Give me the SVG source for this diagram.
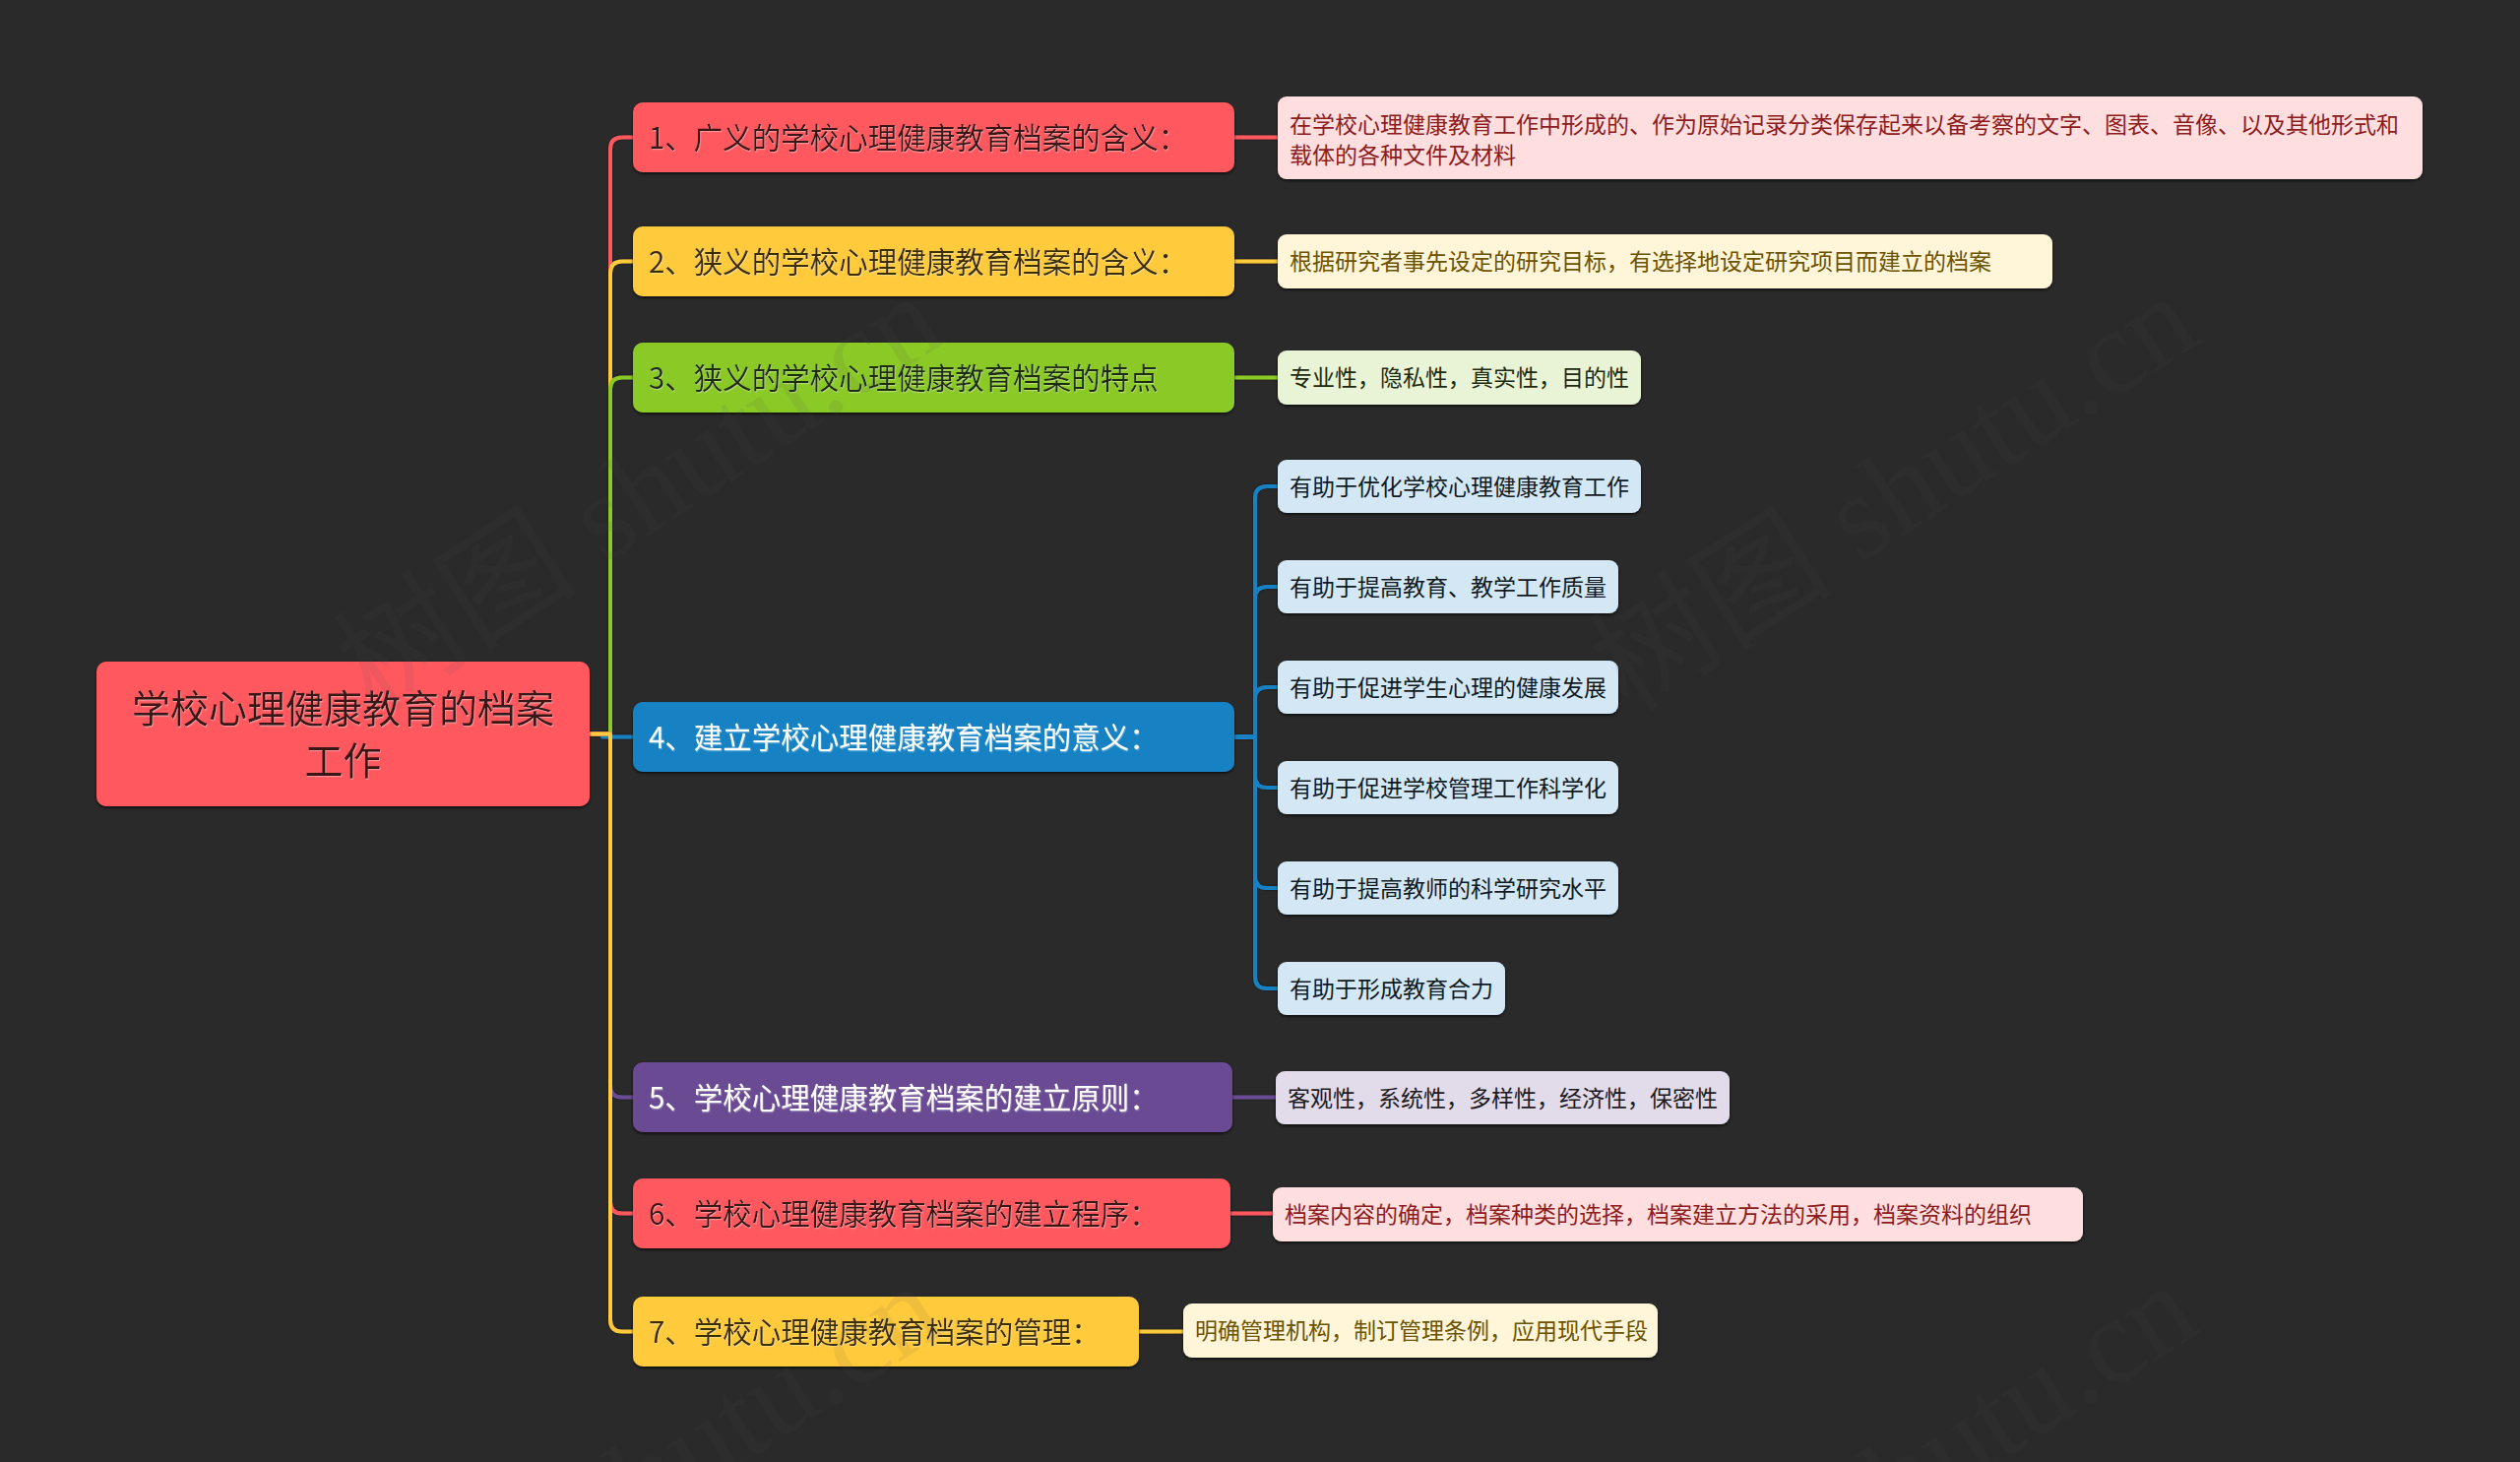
<svg xmlns="http://www.w3.org/2000/svg" width="2560" height="1485" viewBox="0 0 2560 1485">
<defs>
<filter id="boxsh" x="-5%" y="-20%" width="110%" height="140%">
<feDropShadow dx="0" dy="1.5" stdDeviation="1.5" flood-color="#000" flood-opacity="0.75"/>
</filter>
<filter id="txtsh" x="-5%" y="-20%" width="110%" height="140%">
<feDropShadow dx="0.6" dy="1.2" stdDeviation="0.4" flood-color="#fff" flood-opacity="0.35"/>
</filter>
<filter id="linesh" x="-5%" y="-5%" width="110%" height="110%">
<feDropShadow dx="0" dy="0" stdDeviation="1" flood-color="#000" flood-opacity="0.6"/>
</filter>
</defs>
<style>
text{font-family:"Noto Sans CJK SC","Noto Sans",sans-serif;}
.main{font-size:29.5px;filter:url(#txtsh);}
.root{font-size:39px;fill:#3b1212;filter:url(#txtsh);}
.leaf{font-size:23px;}
.box{filter:url(#boxsh);}
.c{fill:none;stroke-width:4;stroke-linecap:round;stroke-linejoin:round;}
.red{fill:#FF595E;} .yel{fill:#FFCA3A;} .grn{fill:#8AC926;} .blu{fill:#1982C4;} .pur{fill:#6A4C93;}
.lred{fill:#FFDEDF;} .lyel{fill:#FFF5D8;} .lgrn{fill:#E9F4D6;} .lblu{fill:#D3E7F4;} .lpur{fill:#E1DBEA;}
.tred{fill:#3b1212;} .tyel{fill:#3d2e05;} .tgrn{fill:#1f2e0a;} .twht{fill:#ffffff;}
.ltred{fill:#8c1c20;} .ltyel{fill:#6b5300;} .ltgrn{fill:#1e2a10;} .ltblu{fill:#111a22;} .ltpur{fill:#1d1a22;}
.wm{font-family:"Liberation Serif","Noto Sans CJK SC",serif;font-size:124px;fill:#4e4e4e;opacity:0.09;}
</style>
<rect x="0" y="0" width="2560" height="1485" fill="#2a2a2a"/>

<g id="connectors" filter="url(#linesh)">
<path class="c" stroke="#FF595E" d="M599,745.5 H620 V151.5 Q620,139.5 632,139.5 H643"/>
<path class="c" stroke="#FFCA3A" d="M599,745.5 H620 V277.5 Q620,265.5 632,265.5 H643"/>
<path class="c" stroke="#8AC926" d="M599,745.5 H620 V395.5 Q620,383.5 632,383.5 H643"/>
<path class="c" stroke="#1982C4" d="M612,748.5 H643"/>
<path class="c" stroke="#6A4C93" d="M599,745.5 H620 V1102.5 Q620,1114.5 632,1114.5 H643"/>
<path class="c" stroke="#FF595E" d="M599,745.5 H620 V1220.5 Q620,1232.5 632,1232.5 H643"/>
<path class="c" stroke="#FFCA3A" d="M599,745.5 H620 V1340.5 Q620,1352.5 632,1352.5 H643"/>
<path class="c" stroke="#FF595E" d="M1254,139.5 H1298"/>
<path class="c" stroke="#FFCA3A" d="M1254,265.5 H1298"/>
<path class="c" stroke="#8AC926" d="M1254,383.5 H1298"/>
<path class="c" stroke="#1982C4" d="M1254,748.5 H1275 V506 Q1275,494 1287,494 H1298"/>
<path class="c" stroke="#1982C4" d="M1254,748.5 H1275 V608 Q1275,596 1287,596 H1298"/>
<path class="c" stroke="#1982C4" d="M1254,748.5 H1275 V710 Q1275,698 1287,698 H1298"/>
<path class="c" stroke="#1982C4" d="M1254,748.5 H1275 V788 Q1275,800 1287,800 H1298"/>
<path class="c" stroke="#1982C4" d="M1254,748.5 H1275 V890 Q1275,902 1287,902 H1298"/>
<path class="c" stroke="#1982C4" d="M1254,748.5 H1275 V992 Q1275,1004 1287,1004 H1298"/>
<path class="c" stroke="#6A4C93" d="M1252,1114.5 H1296"/>
<path class="c" stroke="#FF595E" d="M1250,1232.5 H1293"/>
<path class="c" stroke="#FFCA3A" d="M1157,1352.5 H1202"/>
</g>

<g id="root">
<rect class="box red" x="98" y="672" width="501" height="147" rx="10"/>
<text class="root" x="348.5" y="734" text-anchor="middle">学校心理健康教育的档案</text>
<text class="root" x="348.5" y="787" text-anchor="middle">工作</text>
</g>

<g id="n1">
<rect class="box red" x="643" y="104" width="611" height="71" rx="10"/>
<text class="main tred" x="659" y="150.5">1、广义的学校心理健康教育档案的含义：</text>
</g>
<g id="n2">
<rect class="box yel" x="643" y="230" width="611" height="71" rx="10"/>
<text class="main tyel" x="659" y="276.5">2、狭义的学校心理健康教育档案的含义：</text>
</g>
<g id="n3">
<rect class="box grn" x="643" y="348" width="611" height="71" rx="10"/>
<text class="main tgrn" x="659" y="394.5">3、狭义的学校心理健康教育档案的特点</text>
</g>
<g id="n4">
<rect class="box blu" x="643" y="713" width="611" height="71" rx="10"/>
<text class="main twht" x="659" y="759.5">4、建立学校心理健康教育档案的意义：</text>
</g>
<g id="n5">
<rect class="box pur" x="643" y="1079" width="609" height="71" rx="10"/>
<text class="main twht" x="659" y="1125.5">5、学校心理健康教育档案的建立原则：</text>
</g>
<g id="n6">
<rect class="box red" x="643" y="1197" width="607" height="71" rx="10"/>
<text class="main tred" x="659" y="1243.5">6、学校心理健康教育档案的建立程序：</text>
</g>
<g id="n7">
<rect class="box yel" x="643" y="1317" width="514" height="71" rx="10"/>
<text class="main tyel" x="659" y="1363.5">7、学校心理健康教育档案的管理：</text>
</g>

<g id="l1">
<rect class="box lred" x="1298" y="98" width="1163" height="84" rx="9"/>
<text class="leaf ltred" x="1310" y="135">在学校心理健康教育工作中形成的、作为原始记录分类保存起来以备考察的文字、图表、音像、以及其他形式和</text>
<text class="leaf ltred" x="1310" y="166">载体的各种文件及材料</text>
</g>
<g id="l2">
<rect class="box lyel" x="1298" y="238" width="787" height="55" rx="9"/>
<text class="leaf ltyel" x="1310" y="274">根据研究者事先设定的研究目标，有选择地设定研究项目而建立的档案</text>
</g>
<g id="l3">
<rect class="box lgrn" x="1298" y="356" width="369" height="55" rx="9"/>
<text class="leaf ltgrn" x="1310" y="392">专业性，隐私性，真实性，目的性</text>
</g>
<g id="l4a">
<rect class="box lblu" x="1298" y="467" width="369" height="54" rx="9"/>
<text class="leaf ltblu" x="1310" y="502.5">有助于优化学校心理健康教育工作</text>
</g>
<g id="l4b">
<rect class="box lblu" x="1298" y="569" width="346" height="54" rx="9"/>
<text class="leaf ltblu" x="1310" y="604.5">有助于提高教育、教学工作质量</text>
</g>
<g id="l4c">
<rect class="box lblu" x="1298" y="671" width="346" height="54" rx="9"/>
<text class="leaf ltblu" x="1310" y="706.5">有助于促进学生心理的健康发展</text>
</g>
<g id="l4d">
<rect class="box lblu" x="1298" y="773" width="346" height="54" rx="9"/>
<text class="leaf ltblu" x="1310" y="808.5">有助于促进学校管理工作科学化</text>
</g>
<g id="l4e">
<rect class="box lblu" x="1298" y="875" width="346" height="54" rx="9"/>
<text class="leaf ltblu" x="1310" y="910.5">有助于提高教师的科学研究水平</text>
</g>
<g id="l4f">
<rect class="box lblu" x="1298" y="977" width="231" height="54" rx="9"/>
<text class="leaf ltblu" x="1310" y="1012.5">有助于形成教育合力</text>
</g>
<g id="l5">
<rect class="box lpur" x="1296" y="1088" width="461" height="54" rx="9"/>
<text class="leaf ltpur" x="1308" y="1123.5">客观性，系统性，多样性，经济性，保密性</text>
</g>
<g id="l6">
<rect class="box lred" x="1293" y="1206" width="823" height="55" rx="9"/>
<text class="leaf ltred" x="1305" y="1242">档案内容的确定，档案种类的选择，档案建立方法的采用，档案资料的组织</text>
</g>
<g id="l7">
<rect class="box lyel" x="1202" y="1324" width="482" height="55" rx="9"/>
<text class="leaf ltyel" x="1214" y="1360">明确管理机构，制订管理条例，应用现代手段</text>
</g>

<g id="watermark">
<text class="wm" transform="translate(380,725) rotate(-33)">树图 shutu.cn</text>
<text class="wm" transform="translate(1655,725) rotate(-33)">树图 shutu.cn</text>
<text class="wm" transform="translate(380,1730) rotate(-33)">树图 shutu.cn</text>
<text class="wm" transform="translate(1655,1730) rotate(-33)">树图 shutu.cn</text>
</g>
</svg>
